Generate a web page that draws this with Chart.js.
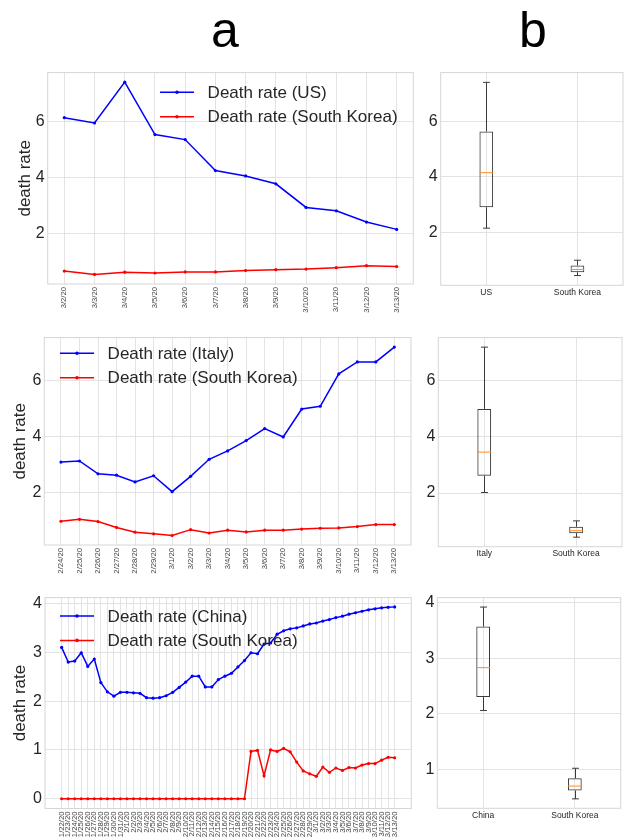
<!DOCTYPE html>
<html>
<head>
<meta charset="utf-8">
<script src="https://cdn.jsdelivr.net/npm/chart.js@4.4.1/dist/chart.umd.min.js"></script>
<style>
  html, body { margin: 0; padding: 0; background: #ffffff; }
  body { width: 624px; height: 840px; position: relative; overflow: hidden;
         font-family: 'Liberation Sans', Arial, sans-serif; }
  canvas { position: absolute; }
  .col-title { position: absolute; top: 5px; font-size: 50px; line-height: 1;
               color: #000; transform: translateX(-50%); }
</style>
</head>
<body>
<div class="col-title" style="left:225px">a</div>
<div class="col-title" style="left:533px">b</div>

<canvas id="usLine"    width="424" height="265" style="left:0;top:60px"></canvas>
<canvas id="usBox"     width="200" height="265" style="left:424px;top:60px"></canvas>
<canvas id="itLine"    width="424" height="260" style="left:0;top:325px"></canvas>
<canvas id="itBox"     width="200" height="260" style="left:424px;top:325px"></canvas>
<canvas id="cnLine"    width="424" height="255" style="left:0;top:585px"></canvas>
<canvas id="cnBox"     width="200" height="255" style="left:424px;top:585px"></canvas>

<script>
// ---- data -------------------------------------------------------------
const usDates = ['3/2/20','3/3/20','3/4/20','3/5/20','3/6/20','3/7/20',
                 '3/8/20','3/9/20','3/10/20','3/11/20','3/12/20','3/13/20'];
const usRate      = [6.13, 5.94, 7.39, 5.53, 5.35, 4.25, 4.06, 3.78, 2.94, 2.82, 2.42, 2.16];
const koreaVsUs   = [0.68, 0.56, 0.64, 0.61, 0.65, 0.65, 0.70, 0.73, 0.75, 0.80, 0.87, 0.84];

const italyDates = ['2/24/20','2/25/20','2/26/20','2/27/20','2/28/20','2/29/20',
                    '3/1/20','3/2/20','3/3/20','3/4/20','3/5/20','3/6/20','3/7/20',
                    '3/8/20','3/9/20','3/10/20','3/11/20','3/12/20','3/13/20'];
const italyRate    = [3.08, 3.12, 2.66, 2.61, 2.37, 2.59, 2.02, 2.57, 3.18, 3.48,
                      3.85, 4.28, 3.98, 4.98, 5.08, 6.24, 6.67, 6.67, 7.20];
const koreaVsItaly = [0.96, 1.03, 0.95, 0.74, 0.57, 0.51, 0.45, 0.66, 0.54, 0.64,
                      0.58, 0.64, 0.64, 0.68, 0.71, 0.72, 0.77, 0.84, 0.84];

const chinaDates = ['1/22/20','1/23/20','1/24/20','1/25/20','1/26/20','1/27/20','1/28/20',
                    '1/29/20','1/30/20','1/31/20','2/1/20','2/2/20','2/3/20','2/4/20',
                    '2/5/20','2/6/20','2/7/20','2/8/20','2/9/20','2/10/20','2/11/20',
                    '2/12/20','2/13/20','2/14/20','2/15/20','2/16/20','2/17/20','2/18/20',
                    '2/19/20','2/20/20','2/21/20','2/22/20','2/23/20','2/24/20','2/25/20',
                    '2/26/20','2/27/20','2/28/20','2/29/20','3/1/20','3/2/20','3/3/20',
                    '3/4/20','3/5/20','3/6/20','3/7/20','3/8/20','3/9/20','3/10/20',
                    '3/11/20','3/12/20','3/13/20'];
const chinaRate    = [3.10, 2.80, 2.82, 2.99, 2.71, 2.86, 2.38, 2.19, 2.10, 2.18,
                      2.18, 2.17, 2.16, 2.07, 2.06, 2.07, 2.11, 2.18, 2.28, 2.39,
                      2.51, 2.51, 2.29, 2.29, 2.44, 2.51, 2.57, 2.70, 2.83, 2.99,
                      2.97, 3.17, 3.19, 3.37, 3.44, 3.48, 3.50, 3.54, 3.58, 3.60,
                      3.64, 3.67, 3.71, 3.74, 3.78, 3.81, 3.84, 3.87, 3.89, 3.91,
                      3.92, 3.93];
const koreaVsChina = [0, 0, 0, 0, 0, 0, 0, 0, 0, 0,
                      0, 0, 0, 0, 0, 0, 0, 0, 0, 0,
                      0, 0, 0, 0, 0, 0, 0, 0, 0, 0.97,
                      0.99, 0.47, 1.00, 0.97, 1.03, 0.96, 0.75, 0.57, 0.51, 0.46,
                      0.65, 0.54, 0.63, 0.58, 0.64, 0.63, 0.69, 0.72, 0.72, 0.79,
                      0.85, 0.84];

// box summaries: [whisker low, Q1, median, Q3, whisker high]
const usBoxCats    = ['US', 'South Korea'];
const usBoxStats   = [[2.16, 2.91, 4.15, 5.63, 7.39], [0.46, 0.58, 0.68, 0.82, 1.01]];
const itBoxCats    = ['Italy', 'South Korea'];
const itBoxStats   = [[2.02, 2.62, 3.46, 5.00, 7.20], [0.43, 0.57, 0.66, 0.80, 1.01]];
const cnBoxCats    = ['China', 'South Korea'];
const cnBoxStats   = [[2.06, 2.30, 2.83, 3.57, 3.92], [0.47, 0.62, 0.70, 0.84, 1.02]];

const ticksEven = [2, 4, 6];
const ticksUnit = [0, 1, 2, 3, 4];
const ticksBoxUnit = [1, 2, 3, 4];

// ---- styling ----------------------------------------------------------
const FONT = "'Liberation Sans', Arial, sans-serif";
const TEXT = '#262626';
const GRID = '#e3e3e3';
const FRAME = '#d6d6d6';
const BLUE = '#0000ff';
const RED = '#ff0000';

Chart.defaults.font.family = FONT;
Chart.defaults.color = TEXT;

// light frame around the plotting area
const framePlugin = {
  id: 'frame',
  beforeDatasetsDraw(chart) {
    const a = chart.chartArea, ctx = chart.ctx;
    ctx.save();
    ctx.strokeStyle = FRAME;
    ctx.lineWidth = 1;
    ctx.strokeRect(a.left, a.top, a.right - a.left, a.bottom - a.top);
    ctx.restore();
  }
};

// frameless legend with a line handle and a centred marker
const inlineLegend = {
  id: 'inlineLegend',
  afterDatasetsDraw(chart, args, opts) {
    if (!opts || !opts.rows) return;
    const ctx = chart.ctx;
    ctx.save();
    chart.data.datasets.forEach((ds, i) => {
      const y = opts.y + i * opts.gap;
      ctx.strokeStyle = ds.borderColor;
      ctx.lineWidth = 1.5;
      ctx.beginPath();
      ctx.moveTo(opts.x, y);
      ctx.lineTo(opts.x + opts.handle, y);
      ctx.stroke();
      ctx.fillStyle = ds.borderColor;
      ctx.beginPath();
      ctx.arc(opts.x + opts.handle / 2, y, 1.8, 0, Math.PI * 2);
      ctx.fill();
      ctx.fillStyle = TEXT;
      ctx.font = opts.size + 'px ' + FONT;
      ctx.textBaseline = 'middle';
      ctx.textAlign = 'left';
      ctx.fillText(ds.label, opts.x + opts.handle + opts.pad, y + 1);
    });
    ctx.restore();
  }
};

// whiskers, caps and median drawn on top of the floating-bar boxes
const whiskerPlugin = {
  id: 'whiskers',
  afterDatasetsDraw(chart, args, opts) {
    if (!opts || !opts.stats) return;
    const ctx = chart.ctx, y = chart.scales.y;
    const meta = chart.getDatasetMeta(0);
    const seg = (x1, y1, x2, y2) => { ctx.beginPath(); ctx.moveTo(x1, y1); ctx.lineTo(x2, y2); ctx.stroke(); };
    ctx.save();
    ctx.lineWidth = 1;
    opts.stats.forEach((s, i) => {
      const bar = meta.data[i];
      const cx = Math.round(bar.x) + 0.5;
      const half = bar.width / 2, cap = half / 2;
      const [lo, q1, med, q3, hi] = s;
      ctx.strokeStyle = opts.color;
      seg(cx, y.getPixelForValue(lo), cx, y.getPixelForValue(q1));
      seg(cx, y.getPixelForValue(q3), cx, y.getPixelForValue(hi));
      seg(cx - cap, y.getPixelForValue(lo), cx + cap, y.getPixelForValue(lo));
      seg(cx - cap, y.getPixelForValue(hi), cx + cap, y.getPixelForValue(hi));
      ctx.strokeStyle = opts.median;
      seg(bar.x - half, y.getPixelForValue(med), bar.x + half, y.getPixelForValue(med));
    });
    ctx.restore();
  }
};

function yAxis(g, min, max, ticks, withTitle) {
  return {
    type: 'linear', min, max,
    afterBuildTicks: s => { s.ticks = ticks.map(v => ({ value: v })); },
    afterFit: s => { s.width = g.axisW; },
    grid: { color: GRID, lineWidth: 1, drawTicks: false },
    border: { display: false },
    ticks: { font: { size: 16 }, color: TEXT, padding: 3 },
    title: withTitle ? { display: true, text: 'death rate', font: { size: 17 }, color: TEXT,
                         padding: { top: g.titlePad, bottom: 0 } } : { display: false }
  };
}

function lineChart(id, labels, a, b, nameA, nameB, g, yMin, yMax, yTicks, legend) {
  const n = labels.length;
  const pts = arr => arr.map((v, i) => ({ x: i, y: v }));
  const series = (label, data, color) => ({
    label, data: pts(data), borderColor: color, backgroundColor: color,
    borderWidth: 1.5, pointRadius: 1.6, pointBorderWidth: 0, pointBackgroundColor: color,
    tension: 0, clip: 4
  });
  return new Chart(document.getElementById(id), {
    type: 'line',
    data: { datasets: [series(nameA, a, BLUE), series(nameB, b, RED)] },
    options: {
      responsive: false, animation: false, devicePixelRatio: 1,
      layout: { padding: { left: 0, top: g.top, right: g.right, bottom: 0 } },
      scales: {
        x: {
          type: 'linear', min: -0.05 * (n - 1), max: 1.05 * (n - 1),
          afterBuildTicks: s => { s.ticks = labels.map((_, i) => ({ value: i })); },
          afterFit: s => { s.height = g.axisH; },
          grid: { color: GRID, lineWidth: 1, drawTicks: false },
          border: { display: false },
          ticks: { autoSkip: false, minRotation: 90, maxRotation: 90, padding: 3,
                   font: { size: 7.7 }, color: '#444',
                   callback: v => labels[v] }
        },
        y: yAxis(g, yMin, yMax, yTicks, true)
      },
      plugins: {
        legend: { display: false }, tooltip: { enabled: false },
        inlineLegend: Object.assign({ rows: true, handle: 34, pad: 13.6, gap: 24.4, size: 17 }, legend)
      }
    },
    plugins: [framePlugin, inlineLegend]
  });
}

function boxChart(id, cats, stats, g, yMin, yMax, yTicks) {
  return new Chart(document.getElementById(id), {
    type: 'bar',
    data: {
      labels: cats,
      datasets: [{
        data: stats.map(s => [s[1], s[3]]),
        backgroundColor: 'rgba(0,0,0,0)', borderColor: '#3a3a3a', borderWidth: 1,
        borderSkipped: false, categoryPercentage: 1, barPercentage: 0.15
      }]
    },
    options: {
      responsive: false, animation: false, devicePixelRatio: 1,
      layout: { padding: { left: 0, top: g.top, right: g.right, bottom: 0 } },
      scales: {
        x: {
          type: 'category', offset: true,
          afterFit: s => { s.height = g.axisH; },
          grid: { color: GRID, lineWidth: 1, drawTicks: false, offset: false },
          border: { display: false },
          ticks: { font: { size: 8.5 }, color: TEXT, padding: 2 }
        },
        y: yAxis(g, yMin, yMax, yTicks, false)
      },
      plugins: {
        legend: { display: false }, tooltip: { enabled: false },
        whiskers: { stats, color: '#3a3a3a', median: '#ff8c2a' }
      }
    },
    plugins: [framePlugin, whiskerPlugin]
  });
}

// ---- row 1: US vs South Korea ----
lineChart('usLine', usDates, usRate, koreaVsUs, 'Death rate (US)', 'Death rate (South Korea)',
  { axisW: 47.7, axisH: 41, top: 10.7, right: 10.7, titlePad: 14.8 },
  0.22, 7.73, ticksEven, { x: 160, y: 32.3 });
boxChart('usBox', usBoxCats, usBoxStats,
  { axisW: 16.7, axisH: 39.7, top: 11.7, right: 1 }, 0.11, 7.74, ticksEven);

// ---- row 2: Italy vs South Korea ----
lineChart('itLine', italyDates, italyRate, koreaVsItaly, 'Death rate (Italy)', 'Death rate (South Korea)',
  { axisW: 44.3, axisH: 40, top: 7, right: 13, titlePad: 10.5 },
  0.11, 7.54, ticksEven, { x: 60, y: 28.3 });
boxChart('itBox', itBoxCats, itBoxStats,
  { axisW: 14.3, axisH: 38.3, top: 8, right: 2 }, 0.09, 7.54, ticksEven);

// ---- row 3: China vs South Korea ----
lineChart('cnLine', chinaDates, chinaRate, koreaVsChina, 'Death rate (China)', 'Death rate (South Korea)',
  { axisW: 45, axisH: 31.5, top: 10, right: 12.7, titlePad: 10.5 },
  -0.2, 4.12, ticksUnit, { x: 60, y: 31 });
boxChart('cnBox', cnBoxCats, cnBoxStats,
  { axisW: 13.3, axisH: 31.7, top: 10, right: 3.3 }, 0.30, 4.09, ticksBoxUnit);
</script>
</body>
</html>
